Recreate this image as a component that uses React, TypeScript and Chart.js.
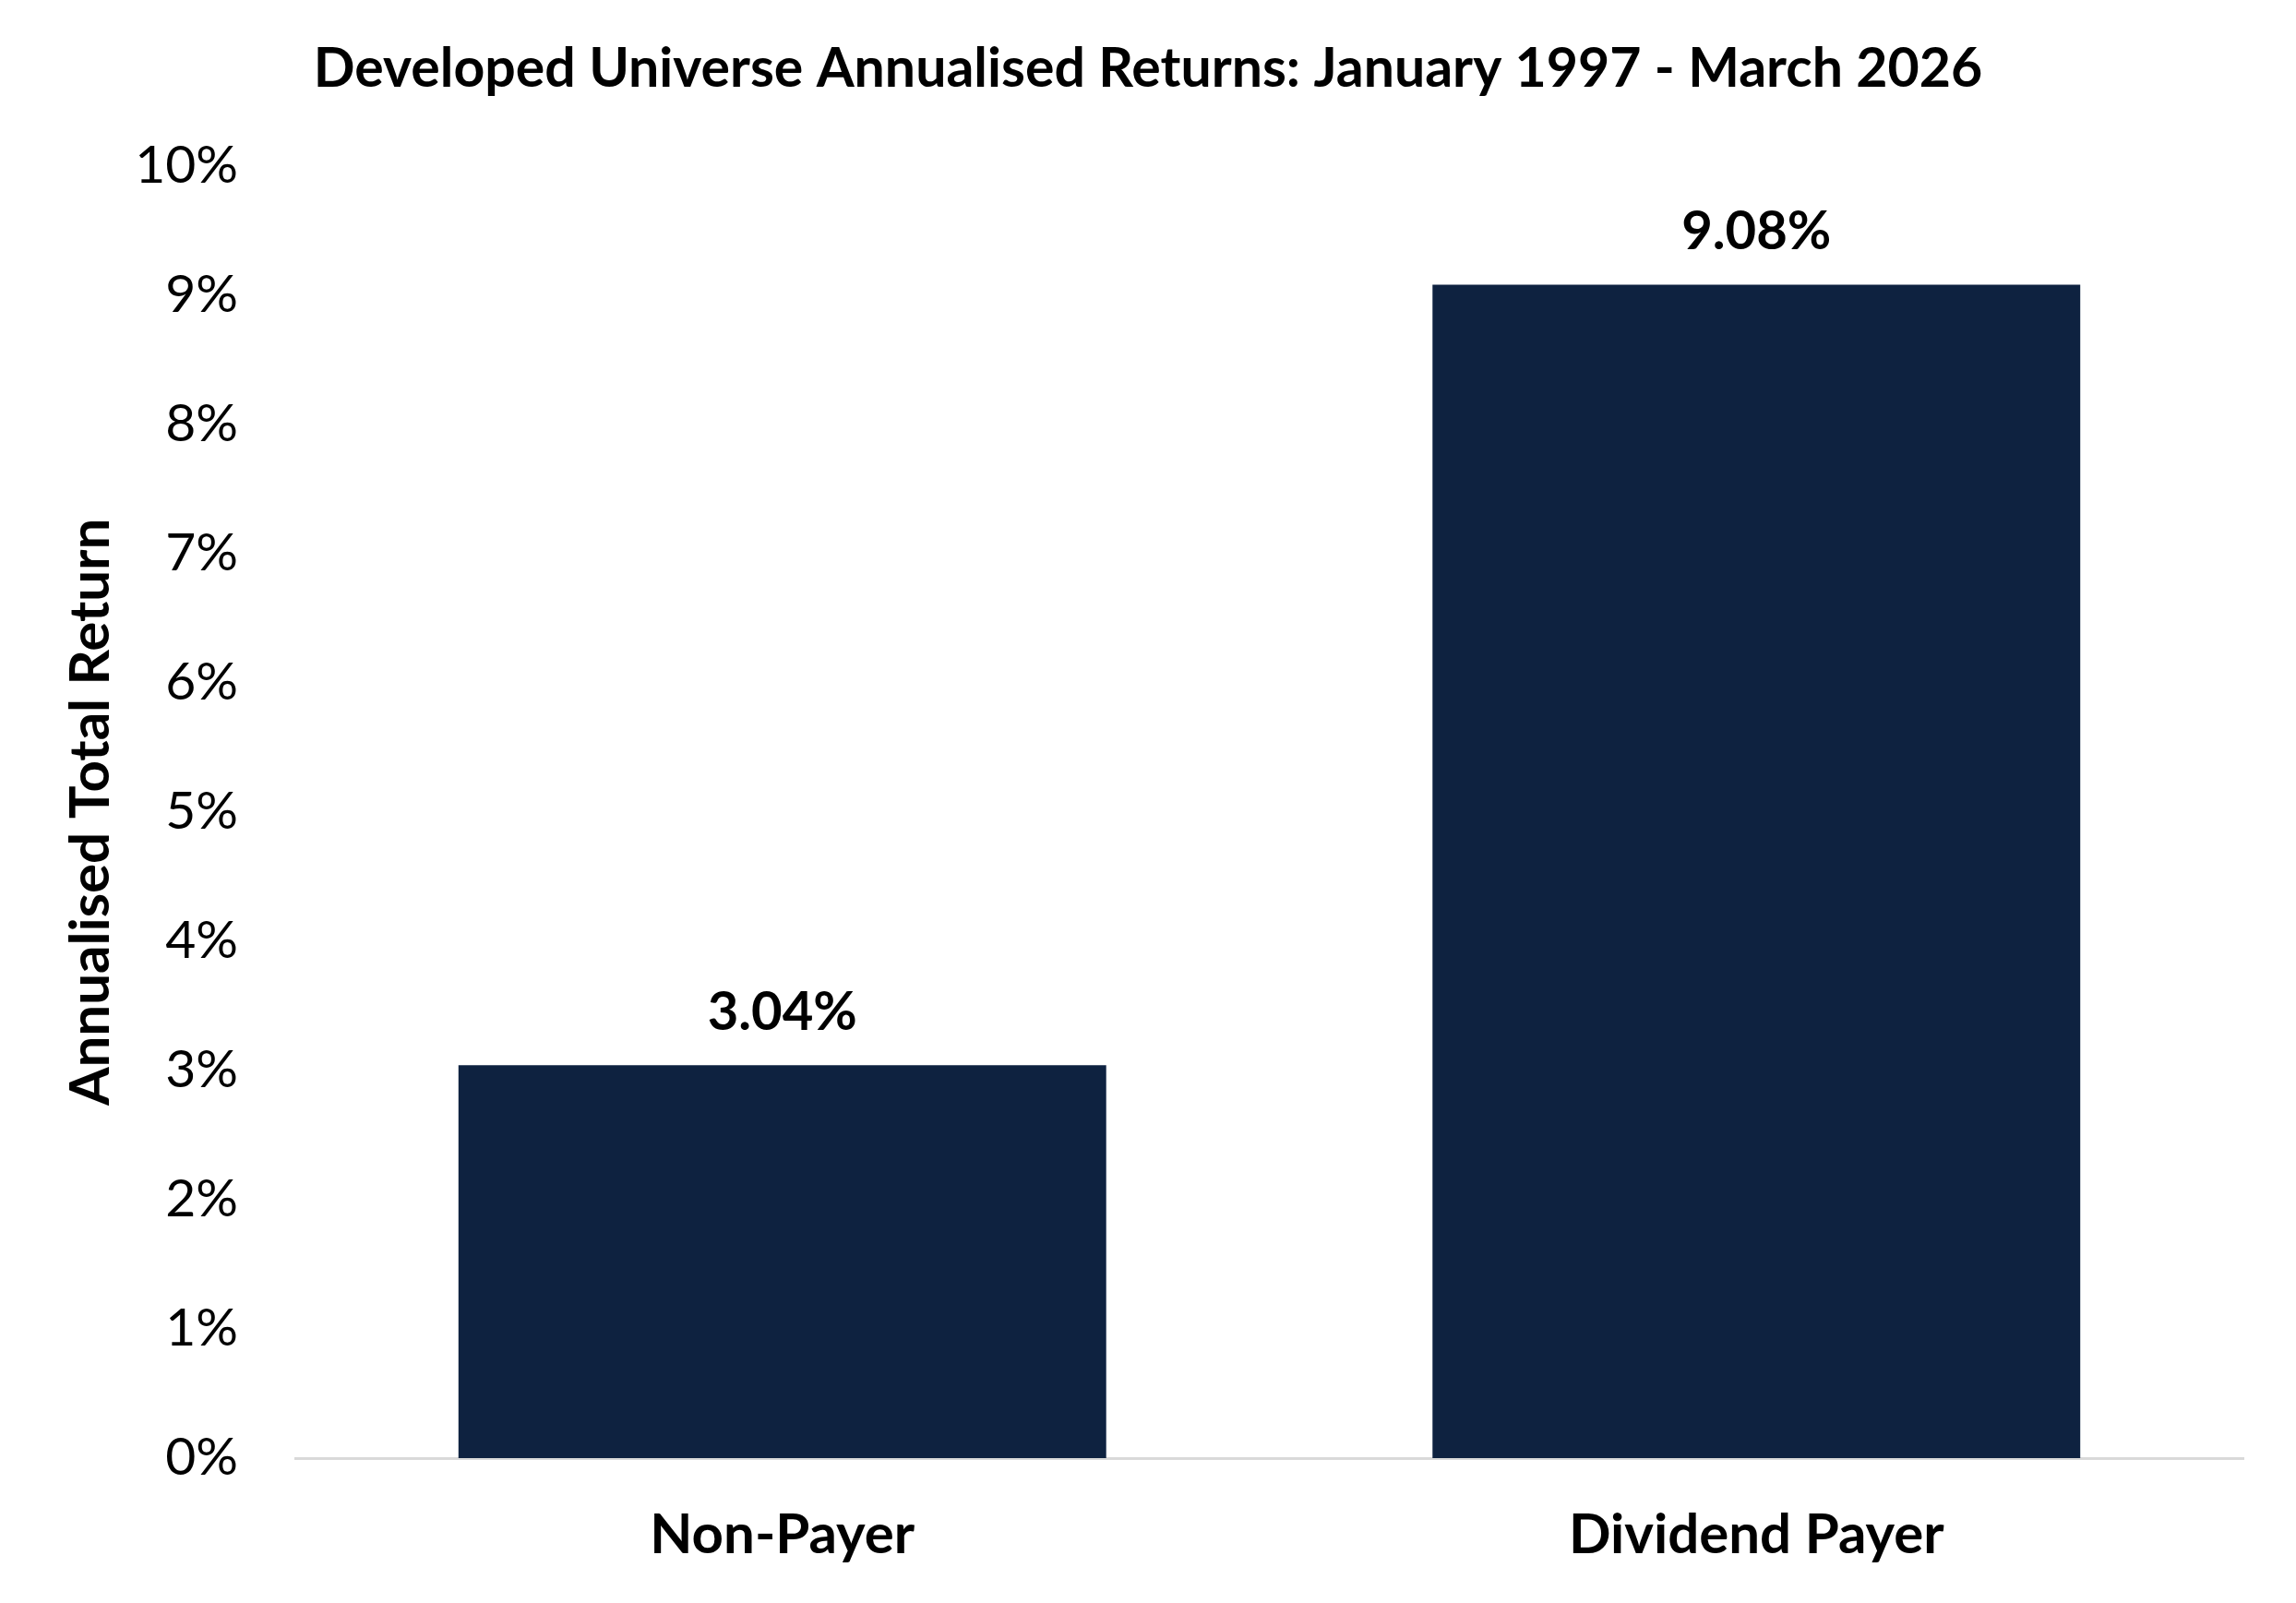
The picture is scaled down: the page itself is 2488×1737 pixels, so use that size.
import { Chart, registerables } from 'chart.js'
import React, { useEffect, useRef } from 'react'

Chart.register(...registerables)

const categories = ['Non-Payer', 'Dividend Payer']
const annualisedReturns = [3.04, 9.08]
const yTicks = [0, 1, 2, 3, 4, 5, 6, 7, 8, 9, 10]

const FONT = "Lato, 'Open Sans', sans-serif"
const NAVY = '#0e2240'

// draws the value above each bar
const barLabels = {
  id: 'barLabels',
  afterDatasetsDraw(chart: Chart) {
    const { ctx } = chart
    const meta = chart.getDatasetMeta(0)
    ctx.save()
    ctx.font = `bold 58px ${FONT}`
    ctx.fillStyle = '#000'
    ctx.textAlign = 'center'
    ctx.textBaseline = 'middle'
    meta.data.forEach((bar: any, i: number) => {
      const v = annualisedReturns[i]
      ctx.fillText(v.toFixed(2) + '%', bar.x, bar.y - 57)
    })
    ctx.restore()
  }
}

const ReturnsChart: React.FC = () => {
  const chartRef = useRef<Chart | null>(null)
  const canvasRef = useRef<HTMLCanvasElement | null>(null)

  useEffect(() => {
    if (!canvasRef.current) return
    if (chartRef.current) chartRef.current.destroy()

    chartRef.current = new Chart(canvasRef.current, {
      type: 'bar',
      data: {
        labels: categories,
        datasets: [
          {
            label: 'Annualised Total Return',
            data: annualisedReturns,
            backgroundColor: NAVY,
            borderWidth: 0,
            categoryPercentage: 1,
            barPercentage: 0.665,
            yAxisID: 'y'
          }
        ]
      },
      options: {
        responsive: false,
        animation: false,
        devicePixelRatio: 1,
        layout: { padding: 0 },
        plugins: {
          legend: { display: false },
          tooltip: { enabled: false },
          title: {
            display: true,
            text: 'Developed Universe Annualised Returns: January 1997 - March 2026',
            color: '#000',
            font: { family: FONT, size: 59, weight: 'bold', lineHeight: 1.2 },
            padding: { top: 40, bottom: 69 }
          }
        },
        scales: {
          x: {
            grid: { display: false, drawTicks: false },
            border: { display: true, color: '#d9d9d9', width: 3 },
            ticks: {
              color: '#000',
              padding: 48,
              font: { family: FONT, size: 60, weight: 'bold', lineHeight: 1.2 }
            },
            afterFit: (scale: any) => {
              scale.height = 157
            }
          },
          y: {
            min: yTicks[0],
            max: yTicks[yTicks.length - 1],
            grid: { display: false, drawTicks: false },
            border: { display: false },
            afterBuildTicks: (scale: any) => {
              scale.ticks = yTicks.map((v) => ({ value: v }))
            },
            ticks: {
              color: '#000',
              padding: 62,
              font: { family: FONT, size: 57, lineHeight: 1.2 },
              callback: (v: any) => v + '%'
            },
            title: {
              display: true,
              text: 'Annualised Total Return',
              color: '#000',
              font: { family: FONT, size: 60, weight: 'bold', lineHeight: 1.2 },
              padding: { top: 63, bottom: 0 }
            },
            afterFit: (scale: any) => {
              scale.width = 320
            }
          },
          // empty right-hand axis, only keeps some white space on the right
          yRight: {
            position: 'right',
            min: yTicks[0],
            max: yTicks[yTicks.length - 1],
            grid: { display: false, drawTicks: false },
            border: { display: false },
            ticks: { display: false },
            afterFit: (scale: any) => {
              scale.width = 57
            }
          }
        }
      },
      plugins: [barLabels]
    })

    return () => {
      if (chartRef.current) {
        chartRef.current.destroy()
        chartRef.current = null
      }
    }
  }, [])

  return (
    <div style={{ position: 'absolute', left: 0, top: 0, width: 2488, height: 1737, background: '#fff' }}>
      <canvas ref={canvasRef} width={2488} height={1737}></canvas>
    </div>
  )
}

export default function App() {
  return <ReturnsChart />
}
